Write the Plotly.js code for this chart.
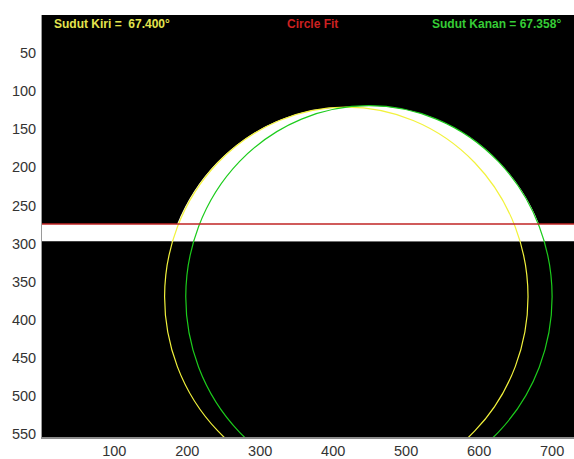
<!DOCTYPE html>
<html>
<head>
<meta charset="utf-8">
<script src="https://cdn.plot.ly/plotly-3.0.1.min.js"></script>
<style>html,body{margin:0;padding:0;background:#fff;}#chart{width:574px;height:459px;}</style>
</head>
<body>
<div id="chart"></div>
<script>
// ---- data ----
const circleNames   = ["Sudut Kiri", "Sudut Kanan"];
const circleCenterX = [418, 449];
const circleCenterY = [370, 370];
const circleRadius  = [249, 251];
const contactAngles = [67.400, 67.358];

const baselineY   = 274.4;   // red baseline
const bandBottomY = 297;     // lower edge of white substrate band

const xTicks = [100, 200, 300, 400, 500, 600, 700];
const yTicks = [50, 100, 150, 200, 250, 300, 350, 400, 450, 500, 550];
const xRange = [1, 730];
const yRange = [554, 0];

const titleText = "Circle Fit";

// ---- styling ----
const circleColors = ["#f2f23c", "#1ccc1c"];
const textColors   = ["#e4e44e", "#36cc36"];

const shapes = [];
// droplet (white) = area covered by the fitted circles above the baseline
for (let i = 0; i < circleNames.length; i++) {
  shapes.push({type: "circle", xref: "x", yref: "y",
    x0: circleCenterX[i] - circleRadius[i] - 2, x1: circleCenterX[i] + circleRadius[i] + 1,
    y0: circleCenterY[i] - circleRadius[i], y1: circleCenterY[i] + circleRadius[i],
    fillcolor: "#ffffff", line: {width: 0}});
}
// black below band
shapes.push({type: "rect", xref: "paper", yref: "y", x0: 0, x1: 1,
  y0: bandBottomY, y1: yRange[0], fillcolor: "#000000", line: {width: 0}});
// white band
shapes.push({type: "rect", xref: "paper", yref: "y", x0: 0, x1: 1,
  y0: baselineY, y1: bandBottomY, fillcolor: "#ffffff", line: {width: 0}});
// fitted circles
for (let i = 0; i < circleNames.length; i++) {
  shapes.push({type: "circle", xref: "x", yref: "y",
    x0: circleCenterX[i] - circleRadius[i], x1: circleCenterX[i] + circleRadius[i],
    y0: circleCenterY[i] - circleRadius[i], y1: circleCenterY[i] + circleRadius[i],
    line: {color: circleColors[i], width: 1.2}});
}
// red baseline
shapes.push({type: "line", xref: "paper", yref: "y", x0: 0, x1: 1,
  y0: baselineY, y1: baselineY, line: {color: "#c02424", width: 1.5}});

const annFont = {family: "Liberation Sans, Arial, sans-serif", size: 12, weight: "bold"};
const annotations = [
  {xref: "paper", yref: "paper", x: 0.0188, y: 0.979, xanchor: "left", yanchor: "middle",
   text: "<b>" + circleNames[0] + " = &nbsp;" + contactAngles[0].toFixed(3) + "°</b>",
   showarrow: false, font: Object.assign({}, annFont, {color: textColors[0]})},
  {xref: "paper", yref: "paper", x: 0.509, y: 0.979, xanchor: "center", yanchor: "middle",
   text: "<b>" + titleText + "</b>", showarrow: false,
   font: Object.assign({}, annFont, {color: "#cc2020"})},
  {xref: "paper", yref: "paper", x: 0.979, y: 0.979, xanchor: "right", yanchor: "middle",
   text: "<b>" + circleNames[1] + " = " + contactAngles[1].toFixed(3) + "°</b>",
   showarrow: false, font: Object.assign({}, annFont, {color: textColors[1]})}
];

const tickFont = {family: "Liberation Sans, Arial, sans-serif", size: 14.5, color: "#333333"};

const layout = {
  width: 574, height: 459,
  margin: {l: 42, r: 0, t: 15, b: 22, pad: 0},
  paper_bgcolor: "#ffffff",
  plot_bgcolor: "#000000",
  showlegend: false,
  xaxis: {range: xRange, tickvals: xTicks, ticktext: xTicks.map(String),
    showgrid: false, zeroline: false, showline: true, linecolor: "#8c8c8c", linewidth: 1.5,
    ticks: "inside", ticklen: 4, tickcolor: "#8c8c8c", tickfont: tickFont, fixedrange: true},
  yaxis: {range: yRange, tickvals: yTicks, ticktext: yTicks.map(String),
    showgrid: false, zeroline: false, showline: true, linecolor: "#9a9a9a", linewidth: 1,
    ticks: "", tickfont: tickFont, ticklabelstandoff: 2, fixedrange: true},
  shapes: shapes,
  annotations: annotations
};

Plotly.newPlot("chart", [{x: [], y: [], type: "scatter", mode: "markers"}], layout,
  {displayModeBar: false, staticPlot: true});
</script>
</body>
</html>
